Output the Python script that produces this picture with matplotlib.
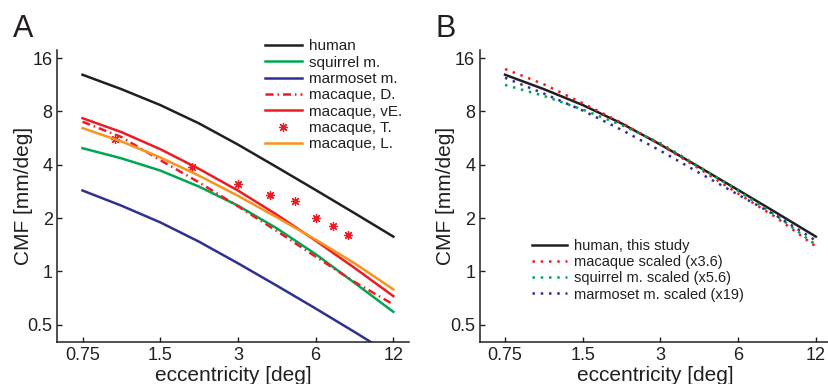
import numpy as np
import matplotlib
matplotlib.use("Agg")
from matplotlib import pyplot as plt

plt.rcParams['font.family'] = ['Liberation Sans', 'DejaVu Sans']

# eccentricity grid (deg), half-octave steps
ecc = [0.75, 1.06, 1.5, 2.12, 3, 4.24, 6, 8.49, 12]

# panel A: cortical magnification (mm/deg)
human = [12.9, 10.7, 8.7, 6.85, 5.2, 3.88, 2.88, 2.13, 1.57]
squirrel = [4.96, 4.35, 3.71, 3.01, 2.35, 1.75, 1.25, 0.86, 0.59]
marmoset = [2.86, 2.35, 1.89, 1.47, 1.11, 0.83, 0.616, 0.454, 0.332]
macaque_D = [7.0, 5.74, 4.25, 3.18, 2.33, 1.69, 1.21, 0.87, 0.65]
macaque_vE = [7.33, 6.12, 4.90, 3.79, 2.86, 2.09, 1.49, 1.045, 0.724]
macaque_L = [6.44, 5.42, 4.40, 3.47, 2.67, 2.02, 1.51, 1.11, 0.79]
ecc_T = [1, 2, 3, 4, 5, 6, 7, 8]
macaque_T = [5.6, 3.9, 3.12, 2.7, 2.5, 2.01, 1.81, 1.61]

# panel B: other species scaled to human
macaque_sc = [13.9, 11.4, 8.9, 6.9, 5.2, 3.8, 2.75, 2.0, 1.38]
squirrel_sc = [11.3, 9.8, 8.2, 6.7, 5.3, 3.9, 2.85, 2.05, 1.41]
marmoset_sc = [12.4, 10.1, 8.1, 6.3, 4.8, 3.6, 2.71, 2.05, 1.49]

xticks = [0.75, 1.5, 3, 6, 12]
xticklabels = ['0.75', '1.5', '3', '6', '12']
yticks = [0.5, 1, 2, 4, 8, 16]
yticklabels = ['0.5', '1', '2', '4', '8', '16']

K = '#231f20'
GREEN = '#00a651'
BLUE = '#2e3192'
RED = '#ed1c24'
ORANGE = '#f7941d'

W, H = 829, 384
fig = plt.figure(figsize=(W / 100, H / 100), dpi=100)


def setup(ax):
    ax.set_xscale('log')
    ax.set_yscale('log')
    ax.set_xlim(0.60, 13.8)
    ax.set_ylim(0.40, 17.8)
    ax.set_xticks(xticks)
    ax.set_xticklabels(xticklabels)
    ax.set_yticks(yticks)
    ax.set_yticklabels(yticklabels)
    ax.minorticks_off()
    for s in ['top', 'right']:
        ax.spines[s].set_visible(False)
    for s in ['left', 'bottom']:
        ax.spines[s].set_linewidth(1.1)
        ax.spines[s].set_color(K)
    ax.tick_params(direction='in', length=3.5, width=1.0, colors=K,
                   labelsize=13, pad=3.5)
    ax.set_xlabel('eccentricity [deg]', fontsize=15, color=K)
    ax.set_ylabel('CMF [mm/deg]', fontsize=15, color=K)
    ax.xaxis.set_label_coords(0.5, -0.084)
    ax.yaxis.set_label_coords(-0.07, 0.5)
    ax.patch.set_alpha(0)


axA = fig.add_axes([57.5 / W, 42.3 / H, 351.5 / W, 291.7 / H])
axB = fig.add_axes([480 / W, 42.3 / H, 351.5 / W, 291.7 / H])
setup(axA)
setup(axB)

lw = 1.8
dashdot = (0, (3.2, 1.6, 0.6, 1.6))
dotted = (0, (1, 2.3))

axA.plot(ecc, human, color=K, lw=lw, label='human')
axA.plot(ecc, squirrel, color=GREEN, lw=lw, label='squirrel m.')
axA.plot(ecc, marmoset, color=BLUE, lw=lw, label='marmoset m.')
axA.plot(ecc, macaque_D, color=RED, lw=lw, ls=dashdot, label='macaque, D.')
axA.plot(ecc, macaque_vE, color=RED, lw=lw, label='macaque, vE.')
axA.plot(ecc_T, macaque_T, ls='none', marker=(8, 2, 0), ms=6.5, mew=0.9,
         color=RED, label='macaque, T.')
axA.plot(ecc, macaque_L, color=ORANGE, lw=lw, label='macaque, L.')

axB.plot(ecc, human, color=K, lw=lw, label='human, this study')
axB.plot(ecc, macaque_sc, color=RED, lw=lw, ls=dotted, label='macaque scaled (x3.6)')
axB.plot(ecc, squirrel_sc, color=GREEN, lw=lw, ls=dotted, label='squirrel m. scaled (x5.6)')
axB.plot(ecc, marmoset_sc, color=BLUE, lw=lw, ls=dotted, label='marmoset m. scaled (x19)')

legA = axA.legend(loc='upper left', bbox_to_anchor=(265 / W, 1 - 39.5 / H),
                  bbox_transform=fig.transFigure, frameon=False, fontsize=11,
                  borderpad=0, borderaxespad=0, handlelength=2.4,
                  handletextpad=0.5, labelspacing=0.15, numpoints=1)
legB = axB.legend(loc='upper left', bbox_to_anchor=(531.7 / W, 1 - 239 / H),
                  bbox_transform=fig.transFigure, frameon=False, fontsize=10.5,
                  borderpad=0, borderaxespad=0, handlelength=2.4,
                  handletextpad=0.5, labelspacing=0.15)
for leg in (legA, legB):
    for t in leg.get_texts():
        t.set_color(K)

fig.text(13 / W, 1 - 36.7 / H, 'A', fontsize=22, color=K, va='baseline')
fig.text(435 / W, 1 - 36.7 / H, 'B', fontsize=22, color=K, va='baseline')

fig.savefig('out.png', dpi=100)
